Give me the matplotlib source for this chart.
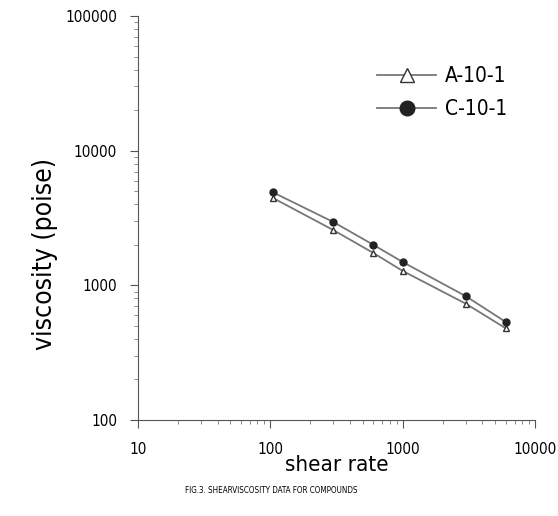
import matplotlib
matplotlib.use('Agg')
import matplotlib.pyplot as plt
from matplotlib.ticker import LogLocator, NullFormatter, FixedFormatter, FixedLocator

plt.rcParams['font.family'] = ['DejaVu Sans']
plt.rcParams['font.stretch'] = 'condensed'

# shear rate values
shear_rate = [105, 300, 600, 1000, 3000, 6000]
# viscosity (poise) for each compound
visc_a = [4450, 2570, 1740, 1280, 730, 480]
visc_c = [4900, 2950, 2000, 1490, 830, 535]

x_ticks = [10, 100, 1000, 10000]
y_ticks = [100, 1000, 10000, 100000]

fig = plt.figure(figsize=(5.58, 5.16), dpi=100)
ax = fig.add_axes([0.247, 0.186, 0.712, 0.783])

ax.plot(shear_rate, visc_a, color='#777777', lw=1.3, marker='^', ms=5,
        mfc='white', mec='#333333', label='A-10-1')
ax.plot(shear_rate, visc_c, color='#777777', lw=1.3, marker='o', ms=5,
        mfc='#222222', mec='#222222', label='C-10-1')

ax.set_xscale('log')
ax.set_yscale('log')
ax.set_xlim(10, 10000)
ax.set_ylim(100, 100000)

ax.xaxis.set_major_locator(FixedLocator(x_ticks))
ax.xaxis.set_major_formatter(FixedFormatter([str(v) for v in x_ticks]))
ax.yaxis.set_major_locator(FixedLocator(y_ticks))
ax.yaxis.set_major_formatter(FixedFormatter([str(v) for v in y_ticks]))
ax.xaxis.set_minor_locator(LogLocator(base=10, subs=range(2, 10)))
ax.yaxis.set_minor_locator(LogLocator(base=10, subs=range(2, 10)))
ax.xaxis.set_minor_formatter(NullFormatter())
ax.yaxis.set_minor_formatter(NullFormatter())

for s in ['top', 'right']:
    ax.spines[s].set_visible(False)
for s in ['left', 'bottom']:
    ax.spines[s].set_color('#555555')
ax.tick_params(which='major', length=6, width=0.8, color='#555555', labelsize=11)
ax.tick_params(which='minor', length=3, width=0.6, color='#777777')
ax.tick_params(axis='x', pad=10)
ax.tick_params(axis='y', pad=9)

ax.set_ylabel('viscosity (poise)', fontsize=19)
ax.yaxis.set_label_coords(-0.2, 0.41)
ax.set_xlabel('shear rate', fontsize=16)
ax.xaxis.set_label_coords(0.5, -0.112)
ax.xaxis.label.set_va('center')

fig.text(0.486, 0.05, 'FIG.3. SHEARVISCOSITY DATA FOR COMPOUNDS', fontsize=5.8,
         ha='center', va='center')

ax.legend(loc='upper right', bbox_to_anchor=(0.93, 0.875), frameon=False,
          borderpad=0, borderaxespad=0, fontsize=15, handlelength=2.8,
          handletextpad=0.45, markerscale=2.1, labelspacing=0.6)

fig.savefig('out.png', dpi=100)
